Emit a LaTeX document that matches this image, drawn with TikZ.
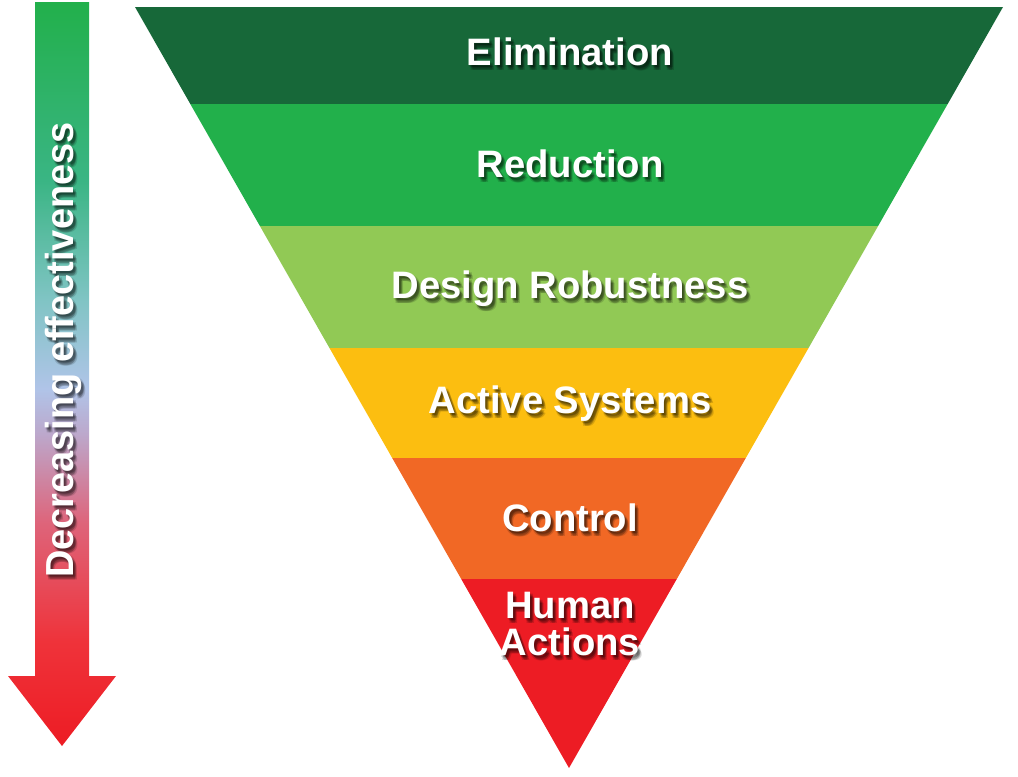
\documentclass[tikz,border=0pt]{standalone}
\usepackage{fontspec}
\setmainfont{Liberation Sans}
\usepackage{tikz}

\definecolor{elimgreen}{RGB}{23,104,57}
\definecolor{redgreen}{RGB}{34,176,75}
\definecolor{designgreen}{RGB}{145,201,85}
\definecolor{activeyellow}{RGB}{252,190,16}
\definecolor{controlorange}{RGB}{241,104,37}
\definecolor{humanred}{RGB}{237,28,36}

% colours of the big arrow, from bottom (25bp) to top (75bp)
\pgfdeclareverticalshading{effgrad}{100bp}{
    color(0bp)=(humanred);
    color(25bp)=(humanred);
    color(32bp)=(humanred!90!white);
    color(40bp)=(rgb,255:red,222;green,100;blue,122);
    color(46bp)=(rgb,255:red,188;green,168;blue,204);
    color(49bp)=(rgb,255:red,176;green,196;blue,232);
    color(55bp)=(rgb,255:red,128;green,196;blue,196);
    color(63bp)=(rgb,255:red,58;green,181;blue,132);
    color(75bp)=(redgreen);
    color(100bp)=(redgreen)
}

\tikzset{
    bandtext/.style={text=white, font=\bfseries\fontsize{27.2}{26.3}\selectfont,
        align=center, inner sep=0pt, anchor=base},
    bandshadow/.style={bandtext, text=black, text opacity=0.14},
    arrowtext/.style={text=white, font=\bfseries\fontsize{27.8}{30}\selectfont,
        inner sep=0pt, anchor=base, rotate=90, xscale=0.97},
    arrowshadow/.style={arrowtext, text=black, text opacity=0.14}
}

% label with a soft drop shadow: name, x, y, style, text
\newcommand\shadowlabel[5]{
    \foreach \dx/\dy in {1/2,2/3,3/4,4/5,3/2,2/5} {
        \node[#4shadow] (#1-sh\dx\dy) at ({#2+\dx},{#3+\dy}) {#5};
    }
    \node[#4text] (#1) at (#2,#3) {#5};
}

\begin{document}
\begin{tikzpicture}[x=0.025cm, y=-0.025cm]

    \useasboundingbox (0,0) rectangle (1018,776);

    % The arrow on the left
    \shade[shading=effgrad]
        (35,2) -- (89,2) -- (89,676) -- (116,676) -- (62,746)
        -- (8,676) -- (35,676) -- cycle;

    % The layers of the triangle
    \begin{scope}
        \clip (135,7) -- (1003,7) -- (569,768) -- cycle;
        \foreach \ya/\yb/\col in {7/104/elimgreen, 104/226/redgreen,
                226/348/designgreen, 348/458/activeyellow,
                458/579/controlorange, 579/770/humanred} {
            \fill[\col] (120,\ya) rectangle (1010,\yb);
        }
    \end{scope}

    % Texts (the two-line one sits on its last line)
    \shadowlabel{elim}{570}{65}{band}{Elimination}
    \shadowlabel{reduc}{570}{177}{band}{Reduction}
    \shadowlabel{design}{570}{298}{band}{Design Robustness}
    \shadowlabel{active}{570}{413}{band}{Active Systems}
    \shadowlabel{control}{570}{531}{band}{Control}
    \shadowlabel{human}{570}{655}{band}{Human\\Actions}

    \shadowlabel{decr}{73}{350}{arrow}{Decreasing effectiveness}

\end{tikzpicture}
\end{document}
